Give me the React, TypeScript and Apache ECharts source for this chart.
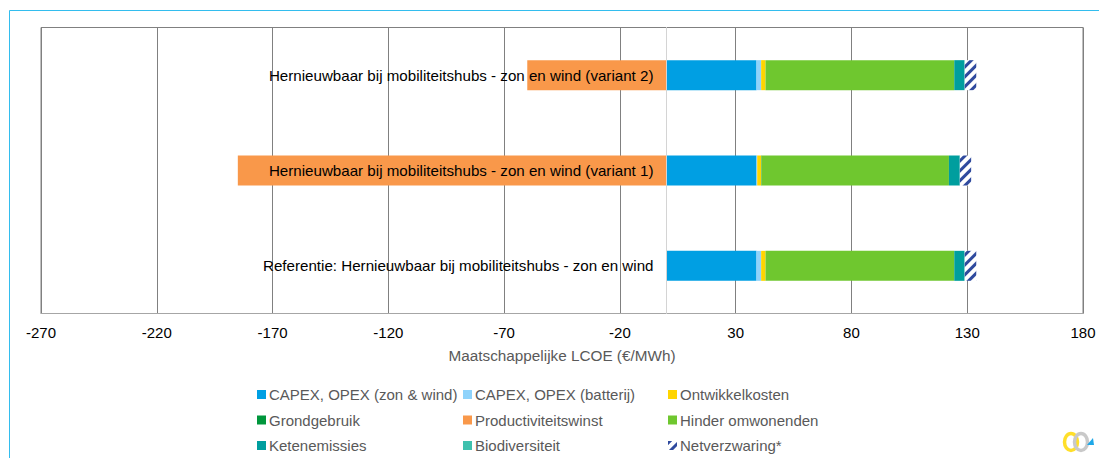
import React, { useEffect, useRef } from "react";
import * as echarts from "echarts";

const categories = [
  "Referentie: Hernieuwbaar bij mobiliteitshubs - zon en wind",
  "Hernieuwbaar bij mobiliteitshubs - zon en wind (variant 1)",
  "Hernieuwbaar bij mobiliteitshubs - zon en wind (variant 2)",
];
const xTicks = [-270, -220, -170, -120, -70, -20, 30, 80, 130, 180];

const capexZonWind = [39, 39, 39];
const capexBatterij = [2, 0.3, 2];
const ontwikkelkosten = [1.9, 1.7, 1.9];
const grondgebruik = [0, 0.2, 0];
const productiviteitswinst = [0, -185, -60];
const hinder = [81.5, 80.9, 81.5];
const ketenemissies = [4.5, 4.7, 4.5];
const biodiversiteit = [0, 0, 0];
const netverzwaring = [5, 4.9, 5];

const seriesDefs: [string, number[], string][] = [
  ["CAPEX, OPEX (zon & wind)", capexZonWind, "#009FE3"],
  ["CAPEX, OPEX (batterij)", capexBatterij, "#8FD3FB"],
  ["Ontwikkelkosten", ontwikkelkosten, "#FFD500"],
  ["Grondgebruik", grondgebruik, "#00963C"],
  ["Productiviteitswinst", productiviteitswinst, "#F9984A"],
  ["Hinder omwonenden", hinder, "#6FC72F"],
  ["Ketenemissies", ketenemissies, "#009E9E"],
  ["Biodiversiteit", biodiversiteit, "#3FC1AE"],
  ["Netverzwaring*", netverzwaring, "#FFFFFF"],
];

const hatch = {
  color: "#2F4A9E",
  symbol: "rect",
  symbolSize: 1,
  rotation: -Math.PI / 4,
  dashArrayX: [[1, 0]],
  dashArrayY: [2.4, 4],
};

export default function App() {
  const ref = useRef<HTMLDivElement>(null);
  useEffect(() => {
    document.body.style.margin = "0";
    const chart = echarts.init(ref.current!, undefined, { renderer: "svg" });
    const font = "'Liberation Sans', Arial, sans-serif";
    const legendBase = {
      orient: "vertical" as const,
      top: 387,
      itemWidth: 9,
      itemHeight: 9,
      itemGap: 10.5,
      icon: "rect",
      selectedMode: false,
      textStyle: { color: "#595959", fontSize: 15, fontFamily: font, padding: [0, 0, 0, -2] },
      padding: 0,
    };
    const logo = (cx: number, color: string) => ({
      type: "ellipse",
      shape: { cx, cy: 442, rx: 6.5, ry: 8.5 },
      style: { fill: "none", stroke: color, lineWidth: 3.5 },
      silent: true,
    });
    chart.setOption({
      animation: false,
      backgroundColor: "#fff",
      textStyle: { fontFamily: font },
      grid: { left: 41, right: 16, top: 27.5, height: 286, containLabel: false, outerBoundsMode: "none", show: true, borderColor: "#808080", borderWidth: 1 },
      xAxis: {
        type: "value",
        min: -270,
        max: 180,
        name: "Maatschappelijke LCOE (€/MWh)",
        nameLocation: "middle",
        nameGap: 34,
        nameTextStyle: { color: "#595959", fontSize: 15.3, fontFamily: font },
        axisLine: { show: true, onZero: false, lineStyle: { color: "#A6A6A6" } },
        axisTick: { show: false, customValues: xTicks },
        axisLabel: { color: "#000", fontSize: 15, fontFamily: font, margin: 11, customValues: xTicks },
        splitLine: { show: true, lineStyle: { color: "#808080", width: 1 } },
      },
      yAxis: {
        type: "category",
        data: categories,
        z: 10,
        offset: -625.5,
        axisLine: { show: true, onZero: false, lineStyle: { color: "#D4D4D4", width: 1 } },
        axisTick: { show: false },
        axisLabel: { color: "#000", fontSize: 15.15, fontFamily: font, margin: 13 },
      },
      legend: [
        { ...legendBase, left: 257, data: [seriesDefs[0][0], seriesDefs[3][0], seriesDefs[6][0]] },
        { ...legendBase, left: 463, data: [seriesDefs[1][0], seriesDefs[4][0], seriesDefs[7][0]] },
        { ...legendBase, left: 668, data: [seriesDefs[2][0], seriesDefs[5][0], seriesDefs[8][0]] },
      ],
      series: seriesDefs.map(([name, data, color]) => ({
        name,
        type: "bar",
        stack: "lcoe",
        data,
        barWidth: 30,
        itemStyle: name.startsWith("Netverzwaring") ? { color, decal: hatch } : { color },
      })),
      graphic: [
        { type: "line", shape: { x1: 9.5, y1: 10.5, x2: 9.5, y2: 458 }, style: { stroke: "#33BDEE", lineWidth: 1 }, silent: true },
        { type: "line", shape: { x1: 9.5, y1: 10.5, x2: 1099, y2: 10.5 }, style: { stroke: "#33BDEE", lineWidth: 1 }, silent: true },
        logo(1071, "#FFDF2A"),
        logo(1081, "#C9C9C9"),
        { type: "polygon", shape: { points: [[1087, 445], [1094, 445], [1093, 438]] }, style: { fill: "#1FA8E8" }, silent: true },
      ],
    });
    return () => chart.dispose();
  }, []);
  return <div ref={ref} style={{ position: "absolute", left: 0, top: 0, width: 1099, height: 458 }} />;
}
